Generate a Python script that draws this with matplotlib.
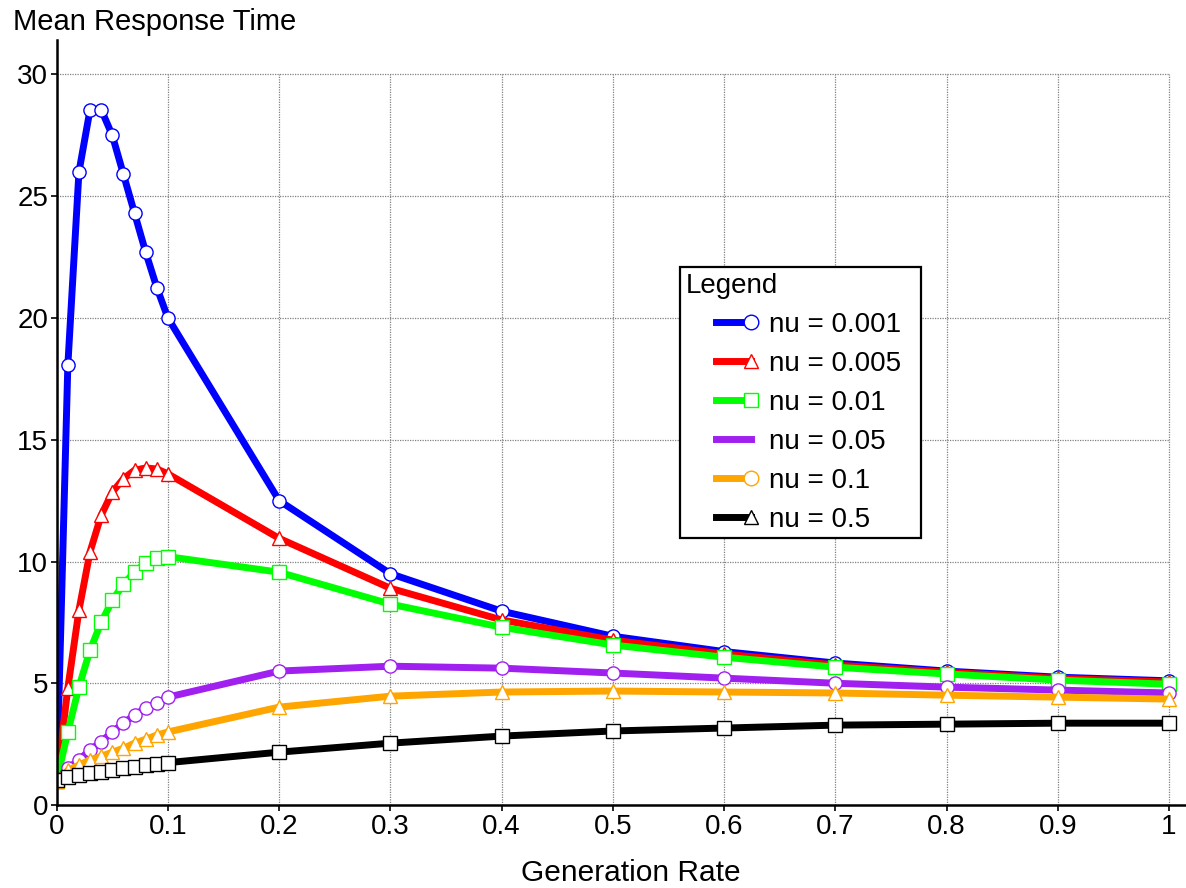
import numpy as np
import matplotlib
matplotlib.use("Agg")
import matplotlib.pyplot as plt
from matplotlib.lines import Line2D
from matplotlib.legend_handler import HandlerLine2D

plt.rcParams['font.family'] = ['Liberation Sans', 'DejaVu Sans']

# ---- data ----
gen_rate = [0.0, 0.01, 0.02, 0.03, 0.04, 0.05, 0.06, 0.07, 0.08, 0.09, 0.1,
            0.2, 0.3, 0.4, 0.5, 0.6, 0.7, 0.8, 0.9, 1.0]
nu_0001 = [1.0, 18.05, 26.0, 28.56, 28.56, 27.5, 25.9, 24.3, 22.7, 21.25, 20.0,
           12.5, 9.5, 7.96, 6.93, 6.3, 5.83, 5.5, 5.25, 5.1]
nu_0005 = [1.0, 4.8, 8.0, 10.4, 11.9, 12.85, 13.4, 13.75, 13.84, 13.8, 13.6,
           10.95, 8.9, 7.6, 6.77, 6.2, 5.75, 5.45, 5.2, 5.05]
nu_001 = [1.0, 3.0, 4.85, 6.36, 7.5, 8.4, 9.07, 9.57, 9.94, 10.13, 10.2,
          9.56, 8.25, 7.3, 6.57, 6.07, 5.66, 5.38, 5.13, 4.96]
nu_005 = [1.0, 1.5, 1.85, 2.26, 2.6, 3.0, 3.36, 3.7, 3.98, 4.18, 4.43,
          5.5, 5.7, 5.62, 5.42, 5.21, 5.0, 4.84, 4.72, 4.6]
nu_01 = [1.0, 1.42, 1.64, 1.85, 2.0, 2.17, 2.33, 2.54, 2.7, 2.87, 3.0,
         4.02, 4.47, 4.64, 4.68, 4.64, 4.6, 4.51, 4.43, 4.35]
nu_05 = [1.03, 1.15, 1.23, 1.32, 1.37, 1.44, 1.52, 1.57, 1.64, 1.68, 1.74,
         2.17, 2.54, 2.83, 3.04, 3.16, 3.28, 3.32, 3.36, 3.36]

labels = ["nu = 0.001", "nu = 0.005", "nu = 0.01", "nu = 0.05", "nu = 0.1", "nu = 0.5"]
x_ticks = [0.0, 0.1, 0.2, 0.3, 0.4, 0.5, 0.6, 0.7, 0.8, 0.9, 1.0]
x_tick_labels = ["0", "0.1", "0.2", "0.3", "0.4", "0.5", "0.6", "0.7", "0.8", "0.9", "1"]
y_ticks = [0, 5, 10, 15, 20, 25, 30]

series = [nu_0001, nu_0005, nu_001, nu_005, nu_01, nu_05]
colors = ['#0000ff', '#ff0000', '#00ff00', '#a020f0', '#ffa500', '#000000']
plot_markers = ['o', '^', 's', 'o', '^', 's']
legend_markers = ['o', '^', 's', 'None', 'o', '^']

W, H = 1186, 888
fig = plt.figure(figsize=(W / 100, H / 100), dpi=100)
ax_left = 56.7 / W
ax_bottom = (H - 805) / H
ax_top = (H - 40) / H
ax = fig.add_axes([ax_left, ax_bottom, 1 - ax_left, ax_top - ax_bottom])

xmax = (W - 56.7) / 1112.3
ymax = (805 - 40) / 24.35
ax.set_xlim(0, xmax)
ax.set_ylim(0, ymax)

# grid (limited to tick range)
ax.vlines(x_ticks, 0, y_ticks[-1], colors='#808080', linestyles=(0, (1, 1)), linewidth=0.9, zorder=0)
ax.hlines(y_ticks, 0, x_ticks[-1], colors='#808080', linestyles=(0, (1, 1)), linewidth=0.9, zorder=0)

for ys, c, m in zip(series, colors, plot_markers):
    ax.plot(gen_rate, ys, color=c, linewidth=5, marker=m, markersize=9.5,
            markerfacecolor='white', markeredgecolor=c, markeredgewidth=1.0,
            solid_joinstyle='round')

ax.set_xticks(x_ticks)
ax.set_xticklabels(x_tick_labels)
ax.set_yticks(y_ticks)
ax.tick_params(axis='both', labelsize=20, direction='out', length=4.5, width=1.2, colors='black')
ax.tick_params(axis='x', pad=2)
ax.tick_params(axis='y', pad=1.5)
for s in ['top', 'right']:
    ax.spines[s].set_visible(False)
for s in ['left', 'bottom']:
    ax.spines[s].set_linewidth(1.8)
    ax.spines[s].set_color('black')


class IndentHandler(HandlerLine2D):
    def get_xdata(self, legend, xdescent, ydescent, width, height, fontsize):
        indent = 0.47 * width
        xd = np.array([-xdescent + indent, -xdescent + width])
        return xd, xd

    def create_artists(self, *args, **kwargs):
        arts = super().create_artists(*args, **kwargs)
        for a in arts:
            a.set_markevery([1])
        return arts


handles = []
for c, m in zip(colors, legend_markers):
    h = Line2D([0, 1], [0, 0], color=c, linewidth=5, marker=m, markersize=10.5,
               markerfacecolor='white', markeredgecolor=c, markeredgewidth=1.0)
    handles.append(h)

leg_left = (680 - 56.7) / (W - 56.7)
leg_top = (805 - 267) / (805 - 40)
leg_w = (921 - 680) / (W - 56.7)
leg_h = (545 - 267) / (805 - 40)
leg = ax.legend(handles, labels, title="Legend", loc='upper left',
                bbox_to_anchor=(leg_left, leg_top - leg_h, leg_w, leg_h), mode='expand',
                borderaxespad=0, fontsize=20, title_fontsize=20, alignment='left',
                fancybox=False, framealpha=1, edgecolor='black', numpoints=2,
                handlelength=2.37, handletextpad=0.62, labelspacing=0.47, borderpad=0.2,
                handler_map={Line2D: IndentHandler(numpoints=2)})
leg.get_frame().set_linewidth(1.6)

fig.text(13 / W, 1 - 22 / H, "Mean Response Time", fontsize=21, ha='left', va='center')
fig.text(631 / W, 15 / H, "Generation Rate", fontsize=21.5, ha='center', va='center')

fig.savefig("out.png", dpi=100)
